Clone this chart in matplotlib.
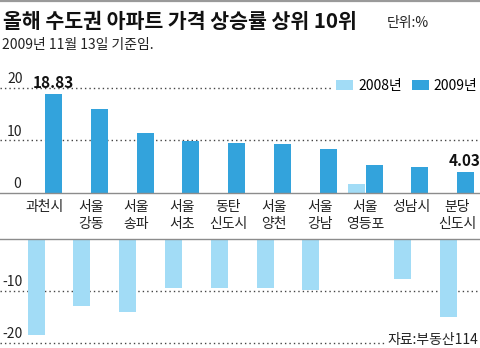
import matplotlib
matplotlib.use("Agg")
import matplotlib.pyplot as plt
import matplotlib.transforms as mtransforms
import numpy as np

plt.rcParams['font.family'] = ['Noto Sans CJK KR', 'DejaVu Sans']

# 수도권 아파트 가격 상승률 상위 10곳 (단위: %)
regions = ['과천시', '서울\n강동', '서울\n송파', '서울\n서초', '동탄\n신도시',
           '서울\n양천', '서울\n강남', '서울\n영등포', '성남시', '분당\n신도시']
rate_2008 = [-18.5, -13.0, -14.0, -9.4, -9.5, -9.5, -9.9, 1.7, -7.8, -15.1]
rate_2009 = [18.83, 16.0, 11.5, 9.9, 9.6, 9.3, 8.3, 5.3, 4.9, 4.03]
labelled_2009 = {0: '18.83', 9: '4.03'}
upper_ticks = [20, 10, 0]
lower_ticks = [-10, -20]
series_names = ['2008년', '2009년']

C08 = '#a2dcf6'
C09 = '#33a3dc'
DOT = dict(color='#444444', lw=1.0, linestyle=(0, (1, 2.2)))
BASE = '#8c8c8c'

W, H = 480, 348
fig = plt.figure(figsize=(W / 100, H / 100), dpi=100)

def fy(px):
    return 1 - px / H

# upper panel: 0 at y=193 px, lower panel: 0 at y=238.5 px
ax_top = fig.add_axes([0, fy(193), 1, (193 - 80) / H])
ax_bot = fig.add_axes([0, 0, 1, (348 - 238.5) / H], sharex=ax_top)

x = np.arange(len(regions))
bw = 0.372
off = 0.19
x_left = -44.8 / 45.8
x_right = (480 - 44.8) / 45.8

for ax in (ax_top, ax_bot):
    ax.bar(x - off, rate_2008, bw, color=C08, zorder=3, label=series_names[0])
    ax.bar(x + off, rate_2009, bw, color=C09, zorder=3, label=series_names[1])
    ax.set_xlim(x_left, x_right)
    for s in ax.spines.values():
        s.set_visible(False)
    ax.set_xticks([])
    ax.set_yticks([])
    ax.patch.set_alpha(0)

ax_top.set_ylim(0, (193 - 80) / 5.26)
ax_bot.set_ylim(-(348 - 238.5) / 5.22, 0)

# gridlines and tick labels sitting above them
for v in upper_ticks:
    if v != 0:
        ax_top.axhline(v, zorder=1, xmax=(332 / W if v == 20 else 1), **DOT)
        ax_top.text(7 / W, v + 0.35, str(v), transform=ax_top.get_yaxis_transform(),
                    ha='left', va='bottom', fontsize=10, color='#222222')
    else:
        ax_top.text(21 / W, v + 0.35, str(v), transform=ax_top.get_yaxis_transform(),
                    ha='right', va='bottom', fontsize=10, color='#222222')
for v in lower_ticks:
    ax_bot.axhline(v, zorder=1, xmax=(386 / W if v == -20 else 1), **DOT)
    ax_bot.text(2 / W, v + 0.3, str(v), transform=ax_bot.get_yaxis_transform(),
                ha='left', va='bottom', fontsize=10, color='#222222')

# baselines
ax_top.axhline(0, color=BASE, lw=1.0, zorder=4, clip_on=False)
ax_bot.axhline(0, color=BASE, lw=1.0, zorder=4, clip_on=False)

# value labels
for i, txt in labelled_2009.items():
    ax_top.text(x[i] + off - (0.03 if i == 9 else 0), rate_2009[i] + 0.6, txt,
                ha='center', va='bottom', fontsize=11, fontweight='bold',
                color='#111111', zorder=5)

# category labels in the band between panels
band = mtransforms.blended_transform_factory(ax_top.transData, fig.transFigure)
for i, name in enumerate(regions):
    ax_top.text(x[i], fy(200), name, transform=band, ha='center', va='top',
                fontsize=10, color='#222222', linespacing=1.25, clip_on=False)

# legend
leg = ax_top.legend(loc='upper right', bbox_to_anchor=(1.012, 1.085), ncol=2, frameon=False,
                    fontsize=10, handlelength=1.2, handleheight=0.75,
                    handletextpad=0.35, columnspacing=0.75, borderaxespad=0.2)

# title block
fig.add_artist(plt.Line2D([0, 1], [fy(0.8), fy(0.8)], color='#9a9a9a', lw=1.6))
fig.text(3 / W, fy(22), '올해 수도권 아파트 가격 상승률 상위 10위', ha='left', va='center',
         fontsize=14.8, fontweight='bold', color='#111111')
fig.text(387 / W, fy(23), '단위:%', ha='left', va='center', fontsize=10, color='#222222')
fig.text(2 / W, fy(45), '2009년 11월 13일 기준임.', ha='left', va='center',
         fontsize=10, color='#222222')
fig.text(478 / W, fy(340), '자료:부동산114', ha='right', va='center', fontsize=10,
         color='#222222')

fig.savefig('out.png', dpi=100)
